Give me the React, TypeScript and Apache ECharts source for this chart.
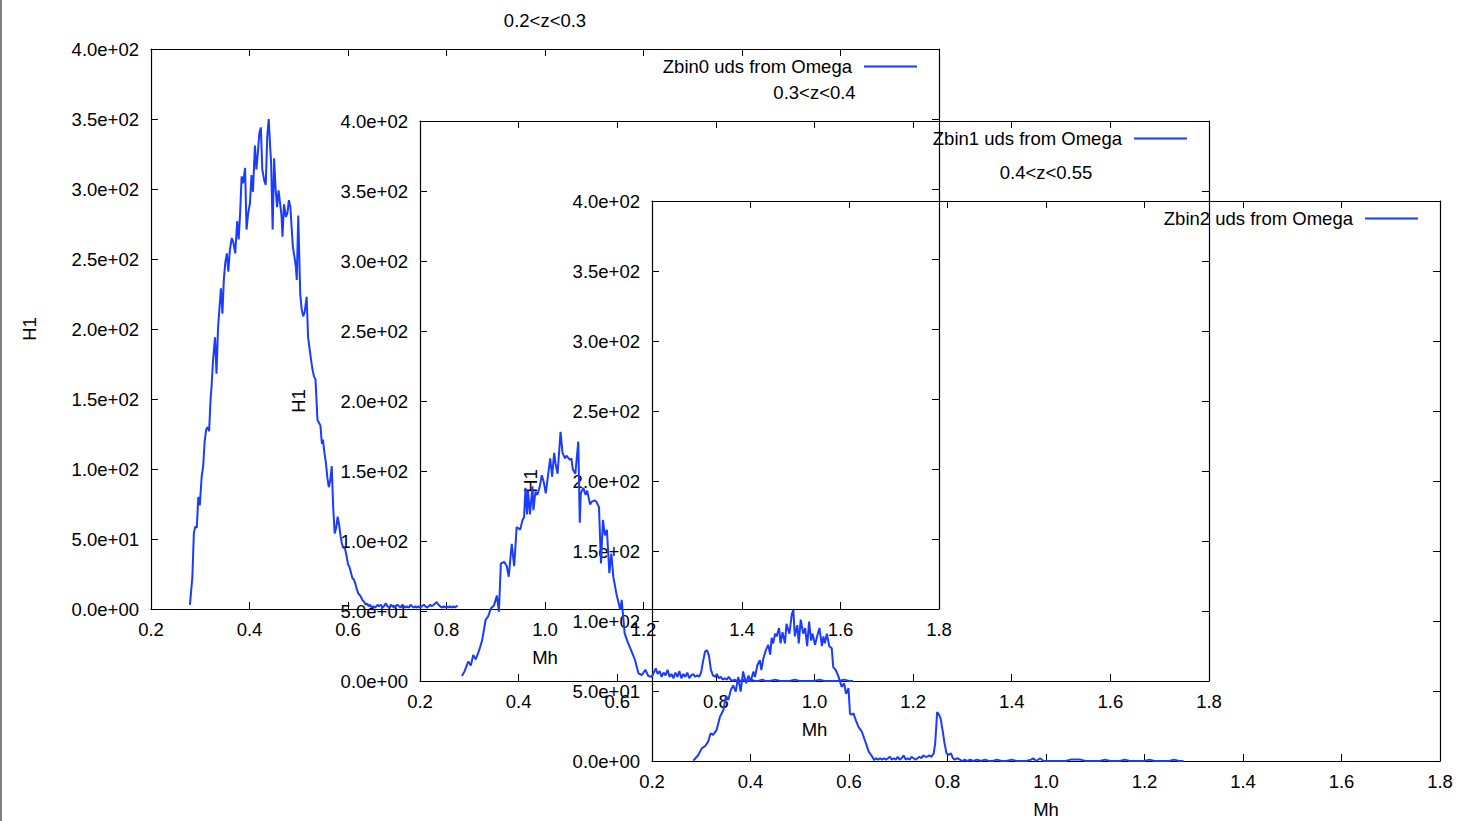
import React, { useEffect, useRef } from "react";
import * as echarts from "echarts";

// Histogram of halo mass Mh (H1 counts) in three redshift bins.
const binTitles = ["0.2<z<0.3", "0.3<z<0.4", "0.4<z<0.55"];
const seriesNames = [
  "Zbin0 uds from Omega",
  "Zbin1 uds from Omega",
  "Zbin2 uds from Omega",
];
const xTicks = { min: 0.2, max: 1.8, step: 0.2 };
const yTicks = { min: 0, max: 400, step: 50 };

const zbin0: [number, number][] = [
  [0.279, 3], [0.284, 23], [0.287, 54], [0.29, 59], [0.293, 58], [0.296, 80],
  [0.299, 74], [0.303, 95], [0.306, 102], [0.309, 120], [0.312, 128], [0.315, 130],
  [0.318, 127], [0.321, 150], [0.323, 159], [0.326, 178], [0.33, 194], [0.333, 168],
  [0.336, 200], [0.339, 215], [0.342, 229], [0.345, 211], [0.348, 236], [0.351, 248],
  [0.354, 254], [0.357, 241], [0.36, 256], [0.364, 265], [0.367, 262], [0.371, 254],
  [0.375, 277], [0.378, 264], [0.381, 283], [0.384, 309], [0.387, 304], [0.391, 315],
  [0.394, 271], [0.397, 282], [0.401, 290], [0.404, 310], [0.407, 298], [0.411, 331],
  [0.414, 314], [0.417, 326], [0.42, 340], [0.423, 344], [0.426, 314], [0.43, 306],
  [0.433, 303], [0.436, 337], [0.439, 350], [0.442, 330], [0.444, 318], [0.447, 271],
  [0.45, 322], [0.453, 300], [0.456, 287], [0.459, 299], [0.462, 290], [0.465, 281],
  [0.467, 266], [0.47, 289], [0.474, 280], [0.477, 283], [0.48, 292], [0.483, 287],
  [0.486, 270], [0.488, 259], [0.491, 252], [0.494, 245], [0.496, 235], [0.499, 281],
  [0.503, 225], [0.506, 214], [0.509, 209], [0.512, 212], [0.516, 223], [0.519, 194],
  [0.522, 186], [0.525, 178], [0.528, 171], [0.531, 166], [0.534, 164], [0.538, 135],
  [0.541, 133], [0.544, 131], [0.547, 118], [0.549, 121], [0.552, 112], [0.555, 105],
  [0.558, 94], [0.561, 87], [0.564, 92], [0.567, 102], [0.57, 72], [0.573, 54],
  [0.576, 58], [0.579, 66], [0.582, 60], [0.585, 52], [0.588, 46], [0.591, 44],
  [0.594, 43], [0.597, 38], [0.6, 32], [0.603, 30], [0.606, 26], [0.609, 22],
  [0.612, 21], [0.615, 18], [0.618, 14], [0.621, 11], [0.624, 10], [0.627, 8],
  [0.63, 6], [0.633, 5], [0.636, 3], [0.639, 4], [0.642, 2], [0.645, 3],
  [0.648, 1], [0.651, 2], [0.655, 1], [0.66, 3], [0.663, 2], [0.667, 3],
  [0.67, 1], [0.673, 2], [0.677, 4], [0.68, 2], [0.684, 1], [0.687, 3],
  [0.69, 2], [0.694, 1], [0.697, 2], [0.7, 3], [0.704, 2], [0.707, 1],
  [0.71, 3], [0.714, 2], [0.717, 1], [0.72, 2], [0.724, 1], [0.727, 3],
  [0.73, 2], [0.734, 1], [0.737, 2], [0.74, 1], [0.744, 2], [0.747, 1],
  [0.75, 2], [0.754, 3], [0.757, 2], [0.76, 1], [0.764, 2], [0.767, 3],
  [0.77, 2], [0.774, 3], [0.777, 4], [0.78, 5], [0.784, 3], [0.787, 2],
  [0.79, 1], [0.794, 2], [0.797, 1], [0.8, 2], [0.804, 1], [0.807, 2],
  [0.81, 1], [0.814, 2], [0.817, 1], [0.82, 2], [0.823, 2],
];

const zbin1: [number, number][] = [
  [0.285, 3.6], [0.29, 6.7], [0.298, 14], [0.303, 11], [0.308, 18.6], [0.313, 15.5],
  [0.32, 22], [0.326, 29], [0.333, 43.6], [0.338, 46], [0.344, 52], [0.35, 54],
  [0.356, 61], [0.36, 49.5], [0.364, 84], [0.371, 85], [0.376, 82], [0.38, 74.5],
  [0.386, 98], [0.391, 82], [0.396, 110], [0.403, 108], [0.408, 115], [0.411, 117],
  [0.414, 138], [0.417, 119], [0.419, 136], [0.423, 119], [0.428, 139], [0.43, 122],
  [0.434, 135], [0.438, 133], [0.443, 139], [0.447, 147], [0.451, 142], [0.455, 134],
  [0.46, 148], [0.464, 159], [0.468, 146], [0.472, 163], [0.475, 155], [0.479, 148],
  [0.485, 178], [0.489, 163], [0.494, 159], [0.497, 161], [0.504, 158], [0.507, 159],
  [0.51, 151], [0.515, 148], [0.521, 171], [0.524, 113], [0.526, 134], [0.531, 138],
  [0.536, 133], [0.539, 136], [0.545, 126], [0.548, 128], [0.554, 129], [0.558, 128],
  [0.563, 124], [0.567, 84], [0.571, 115], [0.575, 104], [0.579, 108], [0.584, 77],
  [0.588, 91], [0.592, 74.5], [0.599, 61], [0.606, 51], [0.609, 58], [0.615, 34],
  [0.621, 28], [0.628, 22], [0.636, 15], [0.643, 5.5], [0.65, 4.3], [0.657, 8],
  [0.663, 3.6], [0.67, 3], [0.674, 6], [0.678, 9], [0.682, 5], [0.686, 7],
  [0.69, 3], [0.694, 6], [0.698, 4], [0.702, 8], [0.706, 3], [0.71, 5],
  [0.714, 2], [0.718, 6], [0.722, 3], [0.726, 7], [0.73, 2], [0.734, 5],
  [0.738, 3], [0.742, 6], [0.746, 2], [0.75, 4], [0.754, 5], [0.758, 3],
  [0.762, 4], [0.766, 3], [0.77, 6], [0.774, 14], [0.778, 21], [0.782, 22],
  [0.786, 18], [0.79, 8], [0.794, 4], [0.798, 3], [0.802, 5], [0.806, 2],
  [0.81, 3], [0.814, 1], [0.818, 2], [0.822, 1], [0.826, 3], [0.83, 1],
  [0.834, 0], [0.838, 1], [0.842, 0], [0.846, 1], [0.85, 0], [0.855, 1],
  [0.86, 0], [0.866, 0], [0.872, 1], [0.878, 0], [0.886, 0], [0.894, 1],
  [0.9, 0], [0.91, 0], [0.92, 1], [0.93, 0], [0.94, 0], [0.95, 0],
  [0.96, 1], [0.97, 0], [0.98, 0], [0.99, 0], [1.0, 0], [1.01, 1],
  [1.02, 0], [1.03, 0], [1.04, 0], [1.05, 0], [1.06, 1], [1.07, 0], [1.078, 0],
];

const zbin2: [number, number][] = [
  [0.284, 0.2], [0.294, 4.3], [0.301, 9], [0.308, 10.7], [0.314, 13.8], [0.319, 19.8],
  [0.324, 18.6], [0.331, 22], [0.338, 31.6], [0.345, 36.4], [0.35, 46], [0.355, 43.6],
  [0.36, 50.7], [0.365, 54], [0.37, 49.5], [0.375, 60], [0.38, 49.5], [0.385, 64],
  [0.391, 55.5], [0.396, 61], [0.4, 56.6], [0.406, 64], [0.409, 60], [0.414, 68.6],
  [0.419, 72], [0.422, 65], [0.426, 73], [0.431, 79], [0.436, 83], [0.44, 76],
  [0.443, 88], [0.446, 84], [0.45, 91], [0.453, 89], [0.458, 95], [0.461, 84],
  [0.465, 92], [0.47, 84], [0.473, 98], [0.479, 91], [0.484, 105], [0.487, 108],
  [0.49, 89], [0.495, 97], [0.498, 84], [0.502, 101], [0.507, 91], [0.511, 95],
  [0.515, 82], [0.519, 99.5], [0.523, 86], [0.526, 91], [0.531, 83], [0.536, 90],
  [0.54, 95], [0.545, 82], [0.548, 89], [0.551, 84], [0.555, 91], [0.56, 82],
  [0.565, 80.5], [0.568, 67], [0.573, 65], [0.578, 61], [0.585, 53], [0.59, 55.5],
  [0.594, 48], [0.599, 52], [0.602, 34], [0.605, 33], [0.609, 34], [0.614, 29],
  [0.619, 24.5], [0.626, 21], [0.632, 15], [0.635, 12], [0.64, 6.7], [0.645, 4.3],
  [0.651, 0.7], [0.655, 2], [0.659, 1], [0.663, 2], [0.667, 1], [0.671, 2],
  [0.675, 1], [0.679, 2], [0.683, 3], [0.687, 1], [0.691, 2], [0.695, 1],
  [0.699, 3], [0.703, 1], [0.707, 2], [0.711, 4], [0.715, 1], [0.719, 2],
  [0.723, 1], [0.727, 3], [0.731, 2], [0.735, 1], [0.739, 2], [0.743, 3],
  [0.747, 2], [0.751, 4], [0.755, 3], [0.759, 3], [0.763, 4], [0.767, 3],
  [0.772, 5.5], [0.775, 12.6], [0.779, 35], [0.783, 33], [0.786, 30.5], [0.79, 22],
  [0.794, 12.6], [0.798, 5.5], [0.802, 4.3], [0.807, 5.5], [0.811, 2], [0.815, 1],
  [0.82, 2], [0.825, 1], [0.83, 0], [0.835, 1], [0.84, 0], [0.846, 1],
  [0.852, 0], [0.86, 1], [0.868, 0], [0.876, 1], [0.884, 0], [0.892, 0],
  [0.9, 1], [0.91, 0], [0.92, 0], [0.93, 1], [0.94, 0], [0.95, 0],
  [0.96, 0], [0.97, 1], [0.974, 2], [0.98, 0], [0.988, 2], [0.995, 0],
  [1.0, 0], [1.01, 0], [1.02, 0], [1.03, 0], [1.04, 0], [1.05, 1],
  [1.06, 1], [1.07, 1], [1.08, 0], [1.09, 0], [1.1, 0], [1.11, 0],
  [1.12, 1], [1.13, 0], [1.14, 0], [1.15, 0], [1.16, 1], [1.17, 0],
  [1.18, 0], [1.19, 0], [1.2, 0], [1.21, 1], [1.22, 0], [1.23, 0],
  [1.24, 0], [1.25, 0], [1.26, 1], [1.27, 0], [1.279, 0],
];

const histograms = [zbin0, zbin1, zbin2];

const W = 1459;
const H = 821;

// Panel frames (pixels) of the three stacked, overlapping plots.
const panels = [
  { left: 151, top: 49, right: 939, bottom: 609 },
  { left: 420, top: 121, right: 1209, bottom: 681 },
  { left: 652, top: 201, right: 1440, bottom: 761 },
];

const FONT = "'Liberation Sans', Arial, Helvetica, sans-serif";
const FS = 18.5;
const BLUE = "#1a3cff";

function sci(v: number): string {
  if (v === 0) return "0.0e+00";
  const e = Math.floor(Math.log10(Math.abs(v)) + 1e-9);
  const m = v / Math.pow(10, e);
  const sign = e < 0 ? "-" : "+";
  return m.toFixed(1) + "e" + sign + String(Math.abs(e)).padStart(2, "0");
}

function buildOption() {
  const frame = { show: true, onZero: false, lineStyle: { color: "#000", width: 1.2 } };
  const tick = { show: true, inside: true, length: 7, lineStyle: { color: "#000", width: 1 } };
  const textBase = { color: "#000", fontFamily: FONT, fontSize: FS };

  const grid: any[] = [];
  const xAxis: any[] = [];
  const yAxis: any[] = [];
  const series: any[] = [];
  const title: any[] = [];
  const legend: any[] = [];

  panels.forEach((p, i) => {
    grid.push({
      left: p.left,
      top: p.top,
      right: W - p.right,
      bottom: H - p.bottom,
      containLabel: false,
      outerBoundsMode: "none",
      show: false,
    });
    const xBase = {
      gridIndex: i,
      type: "value",
      min: xTicks.min,
      max: xTicks.max,
      interval: xTicks.step,
      splitLine: { show: false },
      axisLine: frame,
      axisTick: tick,
    };
    const yBase = {
      gridIndex: i,
      type: "value",
      min: yTicks.min,
      max: yTicks.max,
      interval: yTicks.step,
      splitLine: { show: false },
      axisLine: frame,
      axisTick: tick,
    };
    xAxis.push({
      ...xBase,
      position: "bottom",
      name: "Mh",
      nameLocation: "middle",
      nameGap: 39,
      nameTextStyle: textBase,
      axisLabel: { ...textBase, margin: 11, formatter: (v: number) => v.toFixed(1) },
    });
    xAxis.push({ ...xBase, position: "top", axisLabel: { show: false } });
    yAxis.push({
      ...yBase,
      position: "left",
      name: "H1",
      nameLocation: "middle",
      nameGap: 112,
      nameTextStyle: textBase,
      axisLabel: { ...textBase, margin: 12, formatter: (v: number) => sci(v) },
    });
    yAxis.push({ ...yBase, position: "right", axisLabel: { show: false } });

    series.push({
      name: seriesNames[i],
      type: "line",
      xAxisIndex: 2 * i,
      yAxisIndex: 2 * i,
      data: histograms[i],
      symbol: "none",
      showSymbol: false,
      color: BLUE,
      lineStyle: { color: BLUE, width: 2 },
      z: 3,
    });

    title.push({
      text: binTitles[i],
      left: (p.left + p.right) / 2,
      top: p.top - 38,
      textAlign: "center",
      padding: 0,
      textStyle: { ...textBase, fontWeight: "normal" },
    });

    legend.push({
      data: [{ name: seriesNames[i], icon: "rect" }],
      right: W - (p.right - 22),
      top: p.top + 8,
      align: "right",
      padding: 0,
      itemWidth: 53,
      itemHeight: 2,
      selectedMode: false,
      itemStyle: { color: BLUE, borderWidth: 0 },
      textStyle: { ...textBase, padding: [0, 7, 0, 0] },
    });
  });

  return {
    animation: false,
    backgroundColor: "#ffffff",
    textStyle: { fontFamily: FONT },
    grid,
    xAxis,
    yAxis,
    series,
    title,
    legend,
    graphic: [
      {
        type: "line",
        shape: { x1: 1, y1: 0, x2: 1, y2: H },
        style: { stroke: "#808080", lineWidth: 2 },
        silent: true,
      },
    ],
  };
}

export default function App() {
  const ref = useRef<HTMLDivElement>(null);
  useEffect(() => {
    if (!ref.current) return;
    const chart = echarts.init(ref.current, null, { renderer: "svg", width: W, height: H });
    chart.setOption(buildOption() as any);
    return () => chart.dispose();
  }, []);
  return (
    <div
      ref={ref}
      style={{ position: "fixed", left: 0, top: 0, width: W, height: H, background: "#fff" }}
    />
  );
}
